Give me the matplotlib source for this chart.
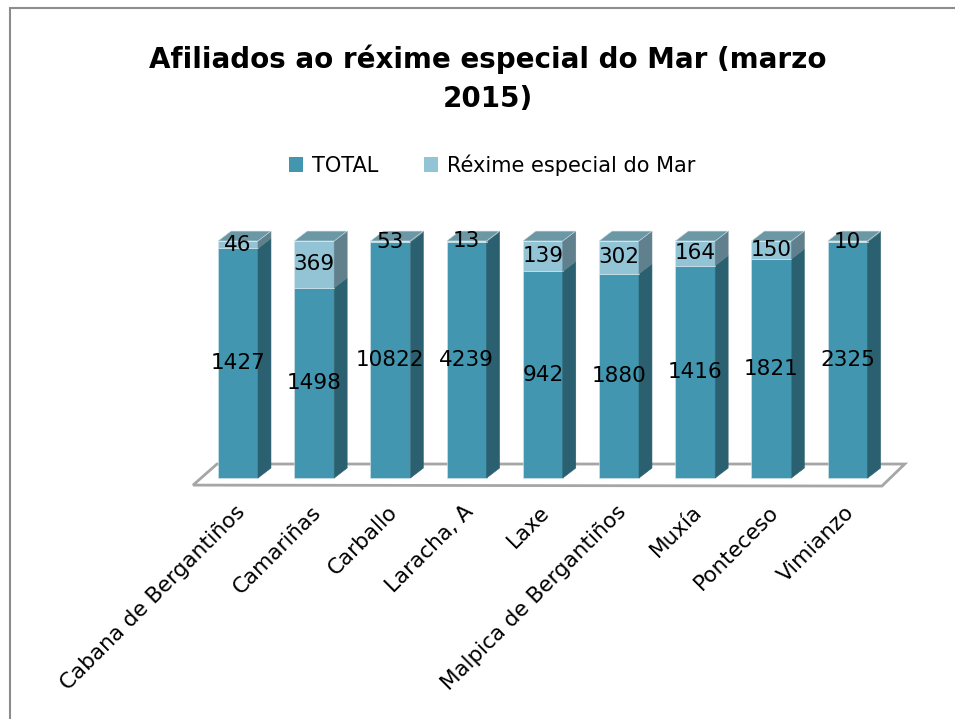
import matplotlib.pyplot as plt
from matplotlib.patches import Polygon, Patch, Rectangle

# datos (marzo 2015)
concellos = ["Cabana de Bergantiños", "Camariñas", "Carballo", "Laracha, A", "Laxe",
             "Malpica de Bergantiños", "Muxía", "Ponteceso", "Vimianzo"]
total = [1427, 1498, 10822, 4239, 942, 1880, 1416, 1821, 2325]
mar = [46, 369, 53, 13, 139, 302, 164, 150, 10]

plt.rcParams['font.family'] = ['DejaVu Sans']

c_total, c_total_side = '#4396B0', '#2A6070'
c_mar, c_mar_side, c_top = '#93C4D6', '#5F808C', '#6C97A4'

W, H = 955, 719
fig = plt.figure(figsize=(W / 100, H / 100), dpi=100)

# marco exterior
fig.patches.append(Rectangle((10 / W, -0.1), 1.2, (H - 8) / H + 0.1, transform=fig.transFigure,
                             fill=False, edgecolor='#8C8C8C', lw=1.5))

# eixos colocados en pixeles: x0 -> 238 px, paso 76.2 px; y 0 -> 478 px, 1 -> 241 px
sx, ox, sy, oy = 76.2, 238, 237, 478
xlim = (-0.75, 8.95)
ylim = (-0.06, 1.1)
left = (ox + xlim[0] * sx) / W
right = (ox + xlim[1] * sx) / W
bottom = 1 - (oy - ylim[0] * sy) / H
top = 1 - (oy - ylim[1] * sy) / H
ax = fig.add_axes([left, bottom, right - left, top - bottom])
ax.set_xlim(*xlim)
ax.set_ylim(*ylim)
ax.axis('off')

# chan
ax.add_patch(Polygon([(-0.59, -0.03), (-0.276, 0.059), (8.75, 0.059), (8.45, -0.034)],
                     closed=True, facecolor='white', edgecolor='#A6A6A6', lw=2, zorder=1))

hw = 0.2625
dx, dy = 0.17, 0.042


def caixa(x, y0, y1, front, side, topc=None):
    ax.add_patch(Polygon([(x - hw, y0), (x + hw, y0), (x + hw, y1), (x - hw, y1)],
                         facecolor=front, edgecolor='#D8E8EE', lw=0.4, zorder=3))
    ax.add_patch(Polygon([(x + hw, y0), (x + hw + dx, y0 + dy), (x + hw + dx, y1 + dy), (x + hw, y1)],
                         facecolor=side, edgecolor=side, lw=0.4, zorder=3))
    if topc is not None:
        ax.add_patch(Polygon([(x - hw, y1), (x - hw + dx, y1 + dy), (x + hw + dx, y1 + dy), (x + hw, y1)],
                             facecolor=topc, edgecolor='#D8E8EE', lw=0.4, zorder=3))


for i in range(len(concellos)):
    s = total[i] + mar[i]
    pt = total[i] / s
    caixa(i, 0, pt, c_total, c_total_side)
    caixa(i, pt, 1, c_mar, c_mar_side, c_top)
    ax.text(i, pt / 2, str(total[i]), ha='center', va='center', fontsize=15.5, zorder=5)
    ax.text(i, (pt + 1) / 2, str(mar[i]), ha='center', va='center', fontsize=15.5, zorder=5)
    ax.text(i + 0.05, -0.13, concellos[i], rotation=45, rotation_mode='anchor',
            ha='right', va='center', fontsize=15.5, clip_on=False)

fig.text(0.511, 0.89, "Afiliados ao réxime especial do Mar (marzo\n2015)", ha='center', va='center',
         fontsize=20, fontweight='bold', linespacing=1.5)

handles = [Patch(facecolor=c_total, label='TOTAL'), Patch(facecolor=c_mar, label='Réxime especial do Mar')]
fig.legend(handles=handles, loc='center', bbox_to_anchor=(0.515, 1 - 165 / H), ncol=2, frameon=False,
           fontsize=15, handlelength=0.7, handleheight=0.7, handletextpad=0.4, columnspacing=2.2)

fig.savefig('out.png', dpi=100)
